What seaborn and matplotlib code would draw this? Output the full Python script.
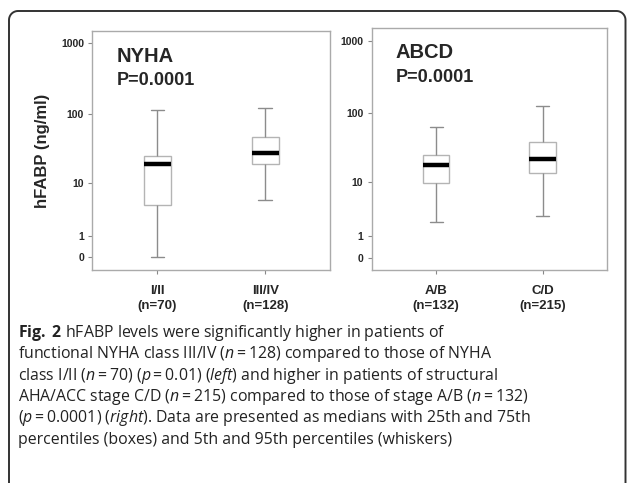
import numpy as np
import pandas as pd
import seaborn as sns
import matplotlib.pyplot as plt
from matplotlib.lines import Line2D

# summary values: 5th, 25th, median, 75th, 95th percentile
nyha_groups = ["I/II\n(n=70)", "III/IV\n(n=128)"]
nyha_stats = [[0.0, 4.4, 19.2, 25.4, 115.0],
              [5.4, 19.0, 27.5, 48.0, 123.0]]
abcd_groups = ["A/B\n(n=132)", "C/D\n(n=215)"]
abcd_stats = [[2.1, 9.9, 18.2, 24.9, 63.6],
              [2.8, 13.8, 22.5, 39.0, 124.0]]

y_ticks = [0, 1, 10, 100, 1000]
y_ticklabels = ["0", "1", "10", "100", "1000"]

caption = [
    r"$\mathbf{Fig.}$ $\mathbf{2}$ hFABP levels were significantly higher in patients of",
    r"functional NYHA class III/IV ($\mathit{n}=128$) compared to those of NYHA",
    r"class I/II ($\mathit{n}=70$) ($\mathit{p}=0.01$) ($\mathit{left}$) and higher in patients of structural",
    r"AHA/ACC stage C/D ($\mathit{n}=215$) compared to those of stage A/B ($\mathit{n}=132$)",
    r"($\mathit{p}=0.0001$) ($\mathit{right}$). Data are presented as medians with 25th and 75th",
    r"percentiles (boxes) and 5th and 95th percentiles (whiskers)",
]

sns.set_style("white")
plt.rcParams['font.family'] = ['Liberation Sans', 'DejaVu Sans']
plt.rcParams['mathtext.fontset'] = 'custom'
plt.rcParams['mathtext.rm'] = 'Open Sans'
plt.rcParams['mathtext.it'] = 'Open Sans:italic'
plt.rcParams['mathtext.bf'] = 'Open Sans:bold'


def fwd(v):
    return np.log10(np.clip(np.asarray(v, dtype=float) + 1, 1e-3, None))


def inv(v):
    return 10 ** np.asarray(v, dtype=float) - 1


def make_df(groups, stats):
    rows = []
    for g, s in zip(groups, stats):
        for v in s:
            rows.append({"group": g, "value": v})
    return pd.DataFrame(rows)


def draw_panel(ax, groups, stats, title, ylim):
    ax.set_yscale('function', functions=(fwd, inv))
    df = make_df(groups, stats)
    # five points per group -> quartiles fall exactly on the read values
    sns.boxplot(data=df, x="group", y="value", order=groups, ax=ax,
                width=0.25, whis=(0, 100), color="white", linecolor="#b4b4b4",
                linewidth=1.0, fliersize=0,
                medianprops=dict(color="black", linewidth=3.2),
                whiskerprops=dict(color="#8c8c8c", linewidth=1.0),
                capprops=dict(color="#8c8c8c", linewidth=1.0))
    ax.set_xlim(-0.605, 1.605)
    ax.set_ylim(*ylim)
    ax.set_yticks(y_ticks)
    ax.set_yticklabels(y_ticklabels, fontsize=7.5, fontweight='bold')
    ax.minorticks_off()
    ax.set_xticks([0, 1])
    ax.set_xticklabels(groups, fontsize=9.5, fontweight='bold', linespacing=1.25)
    ax.set_xlabel("")
    ax.set_ylabel("")
    ax.tick_params(axis='both', length=3, width=0.8, color="#888888", pad=3,
                   left=True, bottom=True)
    ax.tick_params(axis='x', pad=8)
    for sp in ax.spines.values():
        sp.set_color("#aaaaaa")
        sp.set_linewidth(1.0)
    ax.text(0.103, 0.935, title, transform=ax.transAxes, fontsize=14.5,
            fontweight='bold', va='top', ha='left')
    ax.text(0.103, 0.83, "P=0.0001", transform=ax.transAxes, fontsize=13,
            fontweight='bold', va='top', ha='left')


fig = plt.figure(figsize=(6.27, 4.83), dpi=100)

ax1 = fig.add_axes([0.1472, 0.441, 0.3796, 0.4948])
ax2 = fig.add_axes([0.5928, 0.441, 0.3757, 0.5017])

draw_panel(ax1, nyha_groups, nyha_stats, "NYHA", (-0.339, 1479))
draw_panel(ax2, abcd_groups, abcd_stats, "ABCD", (-0.324, 1513))
ax1.set_ylabel("hFABP (ng/ml)", fontsize=12, fontweight='bold', labelpad=8)

# outer rounded frame (open at the bottom, which is cut off), in pixels
r = 9
xl, xr, yt = 9, 625.5, 483 - 11
t = np.linspace(0, np.pi / 2, 12)
fx = np.concatenate([[xl], xl + r - r * np.cos(t), xr - r + r * np.sin(t), [xr]])
fy = np.concatenate([[0], yt - r + r * np.sin(t), yt - r + r * np.cos(t), [0]])
fig.add_artist(Line2D(fx, fy, transform=None, color="#333333", linewidth=1.4,
                      clip_on=False))

y0 = 1 - 333 / 483
step = 21.3 / 483
for i, line in enumerate(caption):
    fig.text(18 / 627, y0 - i * step, line, fontsize=11.4, va='center', ha='left',
             family='Open Sans', color="#222222")

fig.savefig("out.png", dpi=100)
